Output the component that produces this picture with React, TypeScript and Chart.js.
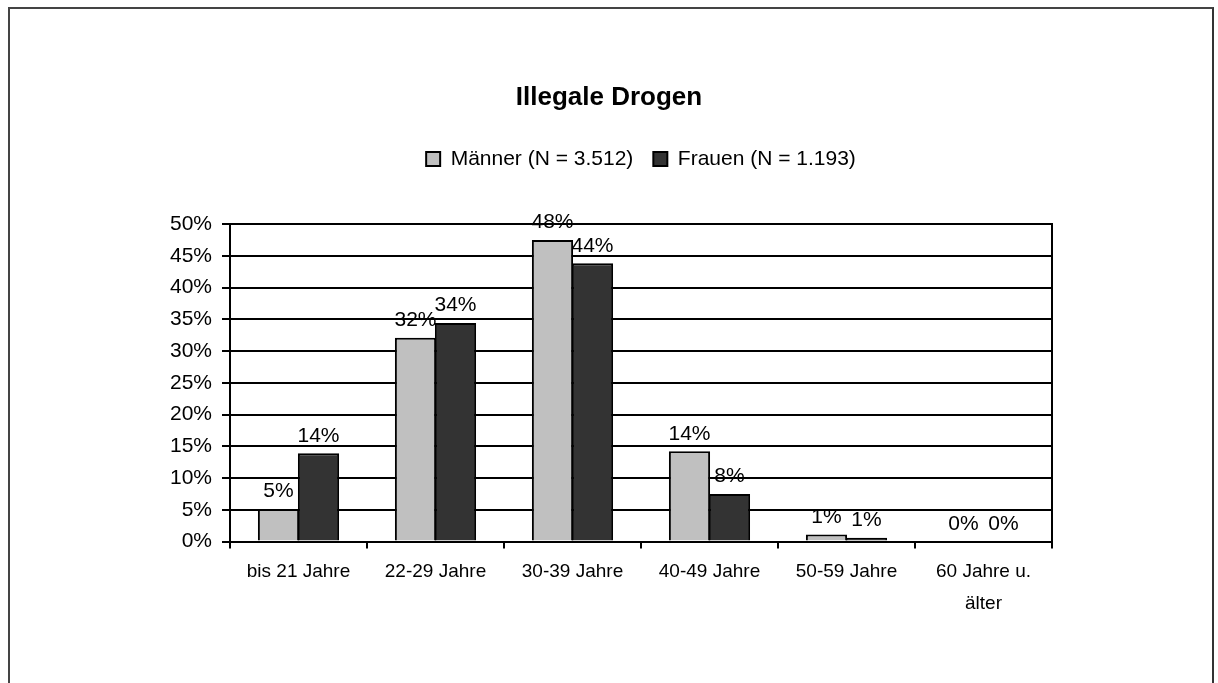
import React, { useEffect, useRef } from "react";
import { Chart, registerables } from "chart.js";

Chart.register(...registerables);

const FONT = '"Liberation Sans", Arial, sans-serif';

const chartTitle = "Illegale Drogen";
const categories: (string | string[])[] = [
  "bis 21 Jahre",
  "22-29 Jahre",
  "30-39 Jahre",
  "40-49 Jahre",
  "50-59 Jahre",
  ["60 Jahre u.", "älter"],
];
const seriesNames = ["Männer (N = 3.512)", "Frauen (N = 1.193)"];
const maenner = [5.1, 32.1, 47.5, 14.2, 1.1, 0];
const frauen = [13.9, 34.4, 43.8, 7.5, 0.6, 0];
const yMin = 0;
const yMax = 50;
const yStep = 5;

const dataLabels = {
  id: "dataLabels",
  afterDatasetsDraw(chart: any) {
    const ctx = chart.ctx;
    ctx.save();
    ctx.font = `21px ${FONT}`;
    ctx.fillStyle = "#000";
    ctx.textAlign = "center";
    ctx.textBaseline = "bottom";
    chart.data.datasets.forEach((ds: any, di: number) => {
      const meta = chart.getDatasetMeta(di);
      meta.data.forEach((bar: any, i: number) => {
        const v = ds.data[i] as number;
        ctx.fillText(`${Math.round(v)}%`, bar.x, bar.y - 7);
      });
    });
    ctx.restore();
  },
};

export default function App() {
  const ref = useRef<HTMLCanvasElement | null>(null);

  useEffect(() => {
    if (!ref.current) return;
    Chart.defaults.font.family = FONT;
    const chart = new Chart(ref.current, {
      type: "bar",
      data: {
        labels: categories,
        datasets: [
          {
            label: seriesNames[0],
            data: maenner,
            backgroundColor: "#c0c0c0",
            borderColor: "#000",
            borderWidth: 2,
            xAxisID: "x",
            yAxisID: "y",
            categoryPercentage: 80 / 137,
            barPercentage: 1.03,
          },
          {
            label: seriesNames[1],
            data: frauen,
            backgroundColor: "#333333",
            borderColor: "#000",
            borderWidth: 2,
            xAxisID: "x",
            yAxisID: "y",
            categoryPercentage: 80 / 137,
            barPercentage: 1.03,
          },
        ],
      },
      options: {
        responsive: false,
        animation: false,
        devicePixelRatio: 1,
        layout: { padding: 0 },
        plugins: {
          title: {
            display: true,
            text: chartTitle,
            color: "#000",
            font: { size: 26, weight: "bold", family: FONT },
            padding: { top: 82.4, bottom: 15 },
          },
          legend: {
            display: true,
            position: "top",
            fullSize: false,
            labels: {
              boxWidth: 14,
              boxHeight: 14,
              padding: 20,
              color: "#000",
              font: { size: 21, family: FONT },
            },
          },
          tooltip: { enabled: false },
        },
        scales: {
          x: {
            type: "category",
            position: "bottom",
            grid: {
              display: true,
              drawOnChartArea: false,
              drawTicks: true,
              tickLength: 7,
              color: "#000",
              lineWidth: 2,
              offset: true,
            },
            border: { display: true, color: "#000", width: 2 },
            ticks: {
              color: "#000",
              font: { size: 19, family: FONT, lineHeight: 1.65 },
              padding: 8,
              maxRotation: 0,
              autoSkip: false,
            },
            afterFit(s: any) {
              s.height = 141.5;
            },
          },
          xTop: {
            type: "category",
            position: "top",
            display: true,
            grid: { display: false },
            border: { display: false },
            ticks: { display: false },
            afterFit(s: any) {
              s.height = 44.4;
            },
          },
          y: {
            type: "linear",
            position: "left",
            min: yMin,
            max: yMax,
            ticks: {
              stepSize: yStep,
              color: "#000",
              padding: 10,
              font: { size: 21, family: FONT },
              callback: (v: any) => `${v}%`,
            },
            grid: { color: "#000", lineWidth: 2, tickLength: 8 },
            border: { display: true, color: "#000", width: 2 },
            afterFit(s: any) {
              s.width = 230;
            },
          },
          yRight: {
            type: "linear",
            position: "right",
            display: true,
            grid: { display: false },
            ticks: { display: false },
            border: { display: true, color: "#000", width: 2 },
            afterFit(s: any) {
              s.width = 166;
            },
          },
        },
      } as any,
      plugins: [dataLabels],
    });
    return () => chart.destroy();
  }, []);

  return (
    <div>
      <div style={{ position: "absolute", left: 0, top: 0, width: 1218, height: 683 }}>
        <canvas ref={ref} width={1218} height={683} style={{ display: "block" }} />
      </div>
      <div
        style={{
          position: "absolute",
          left: 8,
          top: 7,
          width: 1206,
          height: 676,
          boxSizing: "border-box",
          borderTop: "2px solid #444",
          borderLeft: "2px solid #444",
          borderRight: "2px solid #333",
          pointerEvents: "none",
        }}
      />
    </div>
  );
}
